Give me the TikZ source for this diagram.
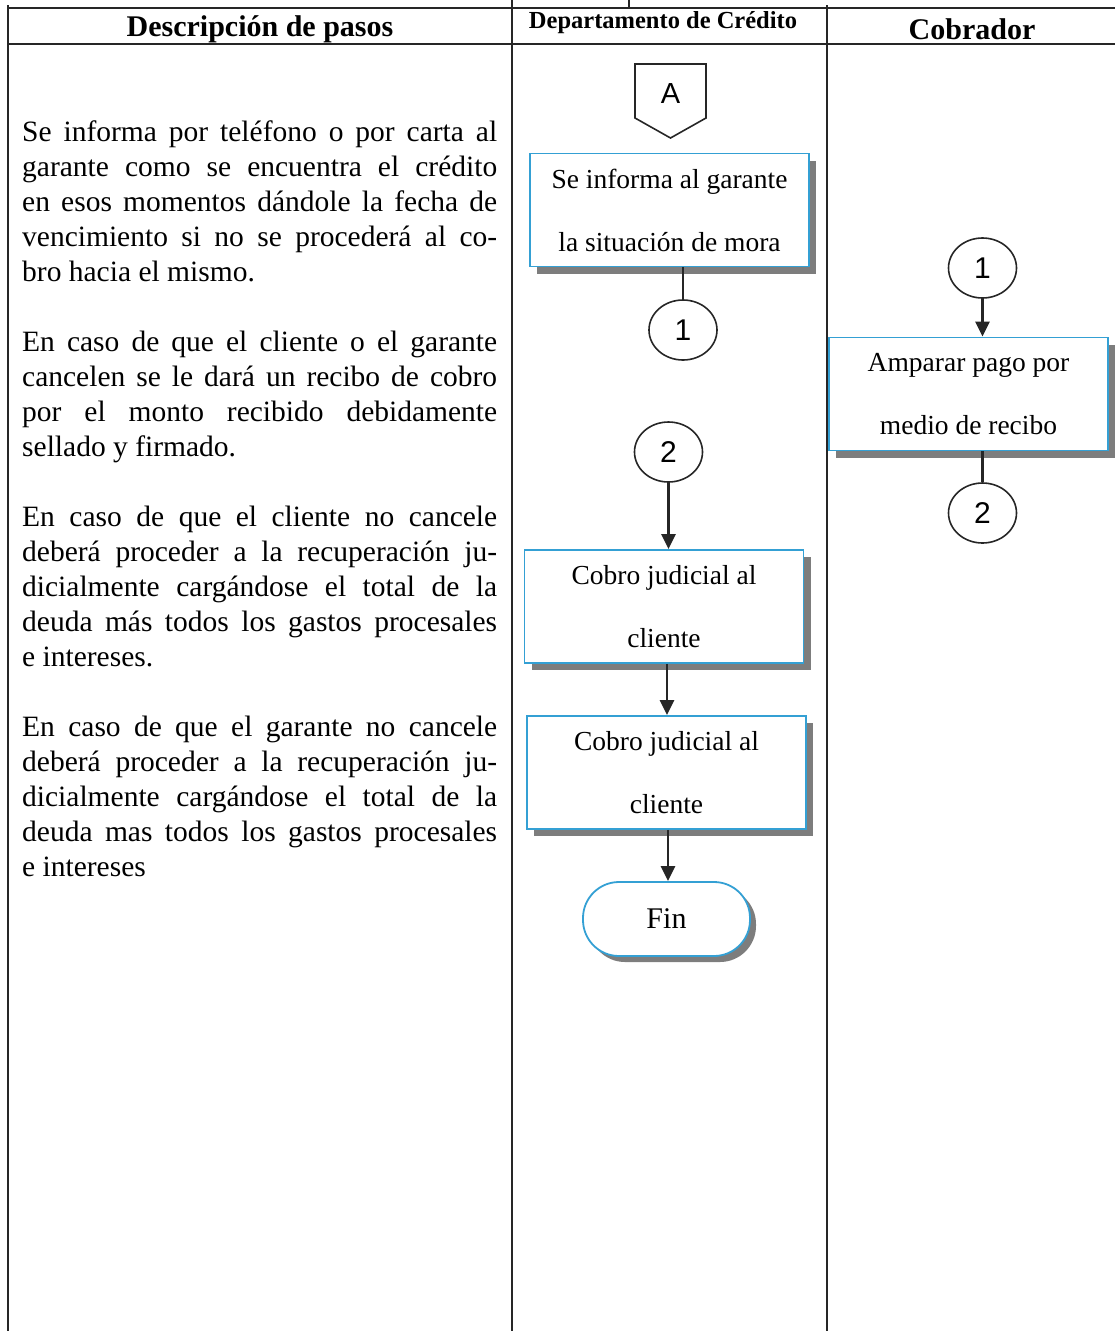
\documentclass[tikz,border=0pt]{standalone}
\usepackage{fontspec}
\setmainfont{Liberation Serif}
\newfontfamily\connfont{Liberation Sans}
\usetikzlibrary{arrows.meta,shadows,shapes.geometric}

\definecolor{flowblue}{RGB}{52,160,212}
\definecolor{shadowgray}{RGB}{125,125,125}

\newlength\colw
\setlength\colw{475pt}
% one justified line of the description column
\newcommand\jl[1]{\makebox[\colw][s]{#1}\\}

\tikzset{
  gridline/.style={line width=2.2pt, draw=black!85},
  headtext/.style={font=\bfseries\fontsize{30}{34}\selectfont, inner sep=0pt},
  desc/.style={inner sep=0pt, anchor=base west},
  procbox/.style={draw=flowblue, line width=1.8pt, fill=white, rectangle,
    minimum width=279pt, minimum height=113pt, inner sep=0pt, align=center,
    font=\fontsize{27.5}{63}\selectfont,
    drop shadow={shadow xshift=7pt, shadow yshift=-7pt, fill=shadowgray, opacity=1}},
  termbox/.style={draw=flowblue, line width=1.8pt, fill=white, rectangle,
    rounded corners=36pt, minimum width=167pt, minimum height=74pt, inner sep=0pt,
    font=\fontsize{30}{34}\selectfont,
    drop shadow={shadow xshift=6pt, shadow yshift=-6pt, fill=shadowgray, opacity=1}},
  connector/.style={draw=black!85, line width=1.6pt, ellipse, minimum width=68pt,
    minimum height=60pt, inner sep=0pt, font=\connfont\fontsize{30}{34}\selectfont},
  flowline/.style={draw=black!85, line width=2.4pt},
  flowarrow/.style={flowline, -{Triangle[width=14pt,length=15pt]}},
}

\begin{document}
\begin{tikzpicture}[x=1pt,y=-1pt]
\useasboundingbox (0,0) rectangle (1115,1331);

% table rules
\draw[gridline] (7,8) -- (1115,8);
\draw[gridline] (7,44) -- (1115,44);
\draw[gridline] (8,5) -- (8,1331);
\draw[gridline] (512,0) -- (512,1331);
\draw[gridline] (827,5) -- (827,1331);
\draw[gridline] (629,0) -- (629,8);

% column headings
\node[headtext] (h1) at (260,29) {Descripción de pasos};
\node[headtext, font=\bfseries\fontsize{24.5}{28}\selectfont] (h2) at (663,23) {Departamento de Crédito};
\node[headtext] (h3) at (972,29) {Cobrador};

% description of the steps
\node[desc] (p1) at (22,141) {\parbox[t]{\colw}{\fontsize{29.5}{35}\selectfont
\jl{Se informa por teléfono o por carta al}
\jl{garante como se encuentra el crédito}
\jl{en esos momentos dándole la fecha de}
\jl{vencimiento si no se procederá al co-}
bro hacia el mismo.}};

\node[desc] (p2) at (22,351) {\parbox[t]{\colw}{\fontsize{29.5}{35}\selectfont
\jl{En caso de que el cliente o el garante}
\jl{cancelen se le dará un recibo de cobro}
\jl{por el monto recibido debidamente}
sellado y firmado.}};

\node[desc] (p3) at (22,526) {\parbox[t]{\colw}{\fontsize{29.5}{35}\selectfont
\jl{En caso de que el cliente no cancele}
\jl{deberá proceder a la recuperación ju-}
\jl{dicialmente cargándose el total de la}
\jl{deuda más todos los gastos procesales}
e intereses.}};

\node[desc] (p4) at (22,736) {\parbox[t]{\colw}{\fontsize{29.5}{35}\selectfont
\jl{En caso de que el garante no cancele}
\jl{deberá proceder a la recuperación ju-}
\jl{dicialmente cargándose el total de la}
\jl{deuda mas todos los gastos procesales}
e intereses}};

% off-page connector A
\draw[draw=black!85, line width=1.6pt] (635,64) -- (706,64) -- (706,118) -- (670.5,138) -- (635,118) -- cycle;
\node[inner sep=0pt, font=\connfont\fontsize{29}{32}\selectfont] (offA) at (670.5,94) {A};

% Departamento de Crédito lane
\node[procbox] (b1) at (669.5,210) {Se informa al garante\\la situación de mora};
\node[connector] (c1a) at (683,330) {1};
\node[connector] (c2a) at (668.5,452) {2};
\node[procbox] (b3) at (664,606.5) {Cobro judicial al\\cliente};
\node[procbox] (b4) at (666.5,772.5) {Cobro judicial al\\cliente};
\node[termbox] (fin) at (666.5,919) {Fin};

% Cobrador lane
\node[connector] (c1b) at (982.5,268) {1};
\node[procbox] (b2) at (968.5,394) {Amparar pago por\\medio de recibo};
\node[connector] (c2b) at (982.5,513) {2};

% connectors
\draw[flowline] (c1a |- b1.south) -- (c1a.north);
\draw[flowarrow] (c2a.south) -- (c2a |- b3.north);
\draw[flowarrow] (b3.south -| 667,0) -- (667,0 |- b4.north);
\draw[flowarrow] (b4.south -| 668,0) -- (668,0 |- fin.north);
\draw[flowarrow] (c1b.south) -- (c1b |- b2.north);
\draw[flowline] (c2b |- b2.south) -- (c2b.north);
\end{tikzpicture}
\end{document}
